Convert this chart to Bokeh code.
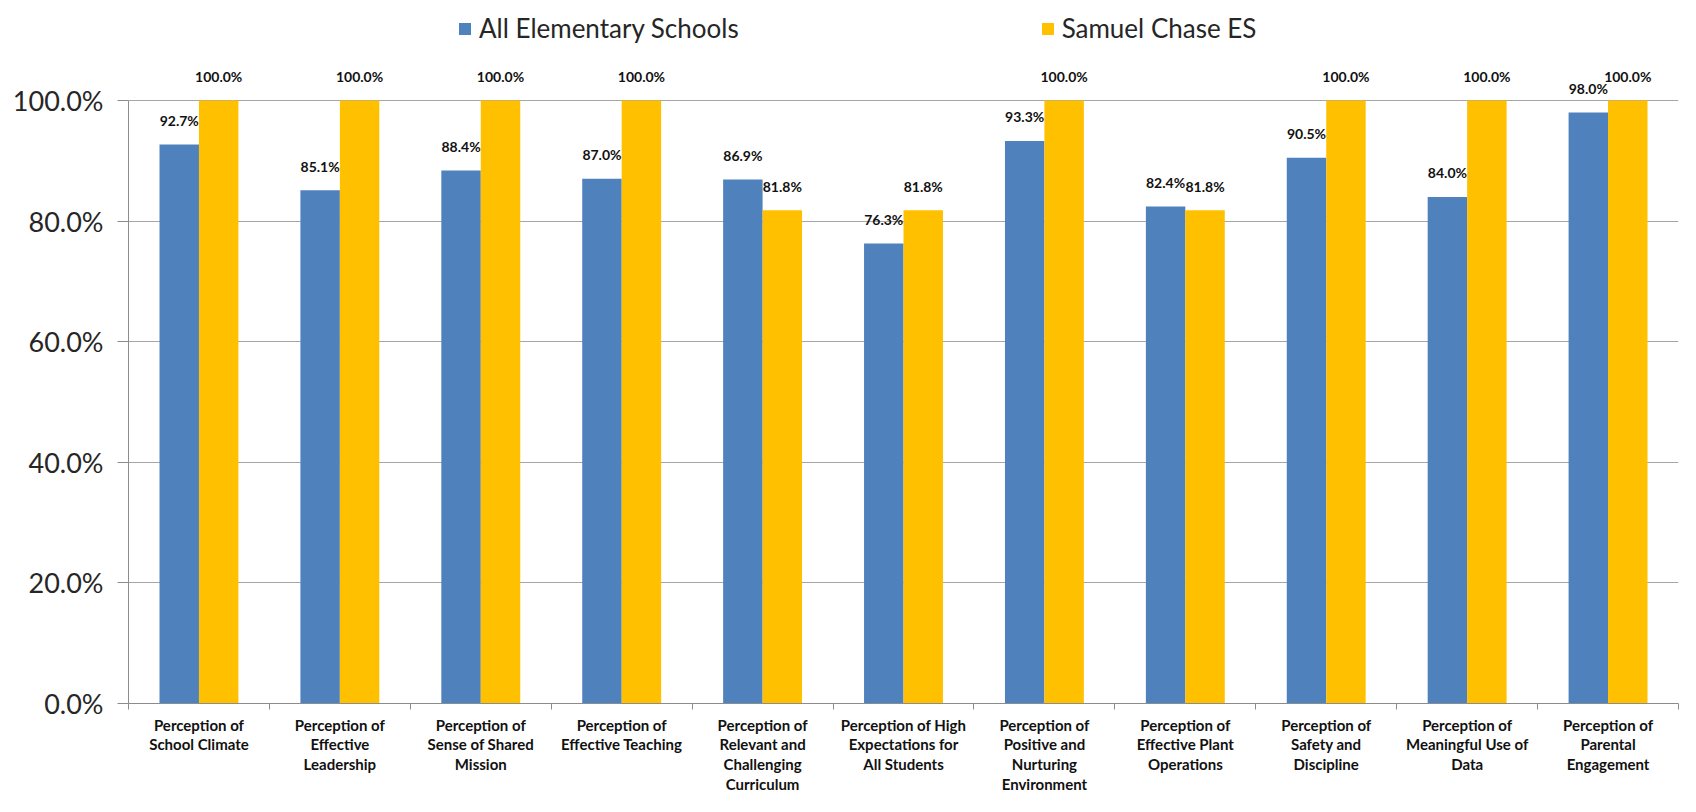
import numpy as np
from bokeh.plotting import figure
from bokeh.models import (ColumnDataSource, Range1d, FixedTicker, LinearAxis,
                          PrintfTickFormatter, LabelSet, Legend, LegendItem)
from bokeh.transform import dodge
from bokeh.core.properties import value
from bokeh.embed import file_html
from bokeh.resources import INLINE

categories = [
    "Perception of\nSchool Climate",
    "Perception of\nEffective\nLeadership",
    "Perception of\nSense of Shared\nMission",
    "Perception of\nEffective Teaching",
    "Perception of\nRelevant and\nChallenging\nCurriculum",
    "Perception of High\nExpectations for\nAll Students",
    "Perception of\nPositive and\nNurturing\nEnvironment",
    "Perception of\nEffective Plant\nOperations",
    "Perception of\nSafety and\nDiscipline",
    "Perception of\nMeaningful Use of\nData",
    "Perception of\nParental\nEngagement",
]
all_elementary = [92.7, 85.1, 88.4, 87.0, 86.9, 76.3, 93.3, 82.4, 90.5, 84.0, 98.0]
samuel_chase = [100.0, 100.0, 100.0, 100.0, 81.8, 81.8, 100.0, 81.8, 100.0, 100.0, 100.0]
y_ticks = [0, 20, 40, 60, 80, 100]
series_names = ["All Elementary Schools", "Samuel Chase ES"]

BLUE = "#4F81BD"
GOLD = "#FFC000"
AXIS = "#8C8C8C"
FONT = "Lato"

n = len(categories)
x_center = np.arange(n) + 0.5
src = ColumnDataSource(dict(
    x=x_center,
    all_es=all_elementary,
    chase=samuel_chase,
    all_lbl=[f"{v:.1f}%" for v in all_elementary],
    chase_lbl=[f"{v:.1f}%" for v in samuel_chase],
))

# frame reaches the canvas top so the legend (drawn inside the frame) stays visible
p = figure(width=1680, height=796, x_range=Range1d(0, n), y_range=Range1d(0, 116.58),
           output_backend="svg", toolbar_location=None,
           x_axis_location=None, y_axis_location=None,
           min_border_left=128, min_border_right=2, min_border_top=0, min_border_bottom=93)
p.outline_line_color = None
p.xgrid.visible = False
p.ygrid.ticker = FixedTicker(ticks=y_ticks)
p.ygrid.grid_line_color = "#A6A6A6"
p.ygrid.grid_line_width = 1

yaxis = LinearAxis(ticker=FixedTicker(ticks=y_ticks), bounds=(0, 100),
                   formatter=PrintfTickFormatter(format="%.1f%%"),
                   major_label_text_font_size="27px", major_label_text_font=FONT,
                   major_label_text_color="#262626",
                   major_tick_out=11, major_tick_in=0, minor_tick_line_color=None,
                   major_tick_line_color=AXIS, axis_line_color=AXIS,
                   major_label_standoff=14)
p.add_layout(yaxis, "left")

xaxis = LinearAxis(ticker=FixedTicker(ticks=list(x_center), minor_ticks=list(np.arange(n + 1))),
                   major_label_overrides={float(x): c for x, c in zip(x_center, categories)},
                   major_tick_line_color=None, minor_tick_out=6, minor_tick_in=0,
                   minor_tick_line_color=AXIS, axis_line_color=AXIS,
                   major_label_text_font_size="15px", major_label_text_font=FONT,
                   major_label_text_font_style="bold", major_label_text_color="#111111",
                   major_label_text_line_height=1.1, major_label_standoff=6)
p.add_layout(xaxis, "below")

r1 = p.vbar(x=dodge("x", -0.14, range=p.x_range), top="all_es", width=0.28,
            source=src, fill_color=BLUE, line_color=None)
r2 = p.vbar(x=dodge("x", 0.14, range=p.x_range), top="chase", width=0.28,
            source=src, fill_color=GOLD, line_color=None)

for col, lbl, off in (("all_es", "all_lbl", -0.14), ("chase", "chase_lbl", 0.14)):
    p.add_layout(LabelSet(x=dodge("x", off, range=p.x_range), y=col, text=lbl, source=src,
                          text_align="center", text_baseline="middle", y_offset=24,
                          text_font_size="14px", text_font_style="bold",
                          text_font=value(FONT), text_color="#111111"))

legend = Legend(items=[LegendItem(label=series_names[0], renderers=[r1]),
                       LegendItem(label=series_names[1], renderers=[r2])],
                orientation="horizontal", location=(329, 659),
                border_line_color=None, background_fill_alpha=0,
                padding=0, margin=0, spacing=301,
                glyph_width=15, glyph_height=15, label_standoff=7,
                label_text_font_size="26px", label_text_font=FONT,
                label_text_color="#262626")
p.add_layout(legend, "center")

open("out.html", "w").write(file_html(p, INLINE))
